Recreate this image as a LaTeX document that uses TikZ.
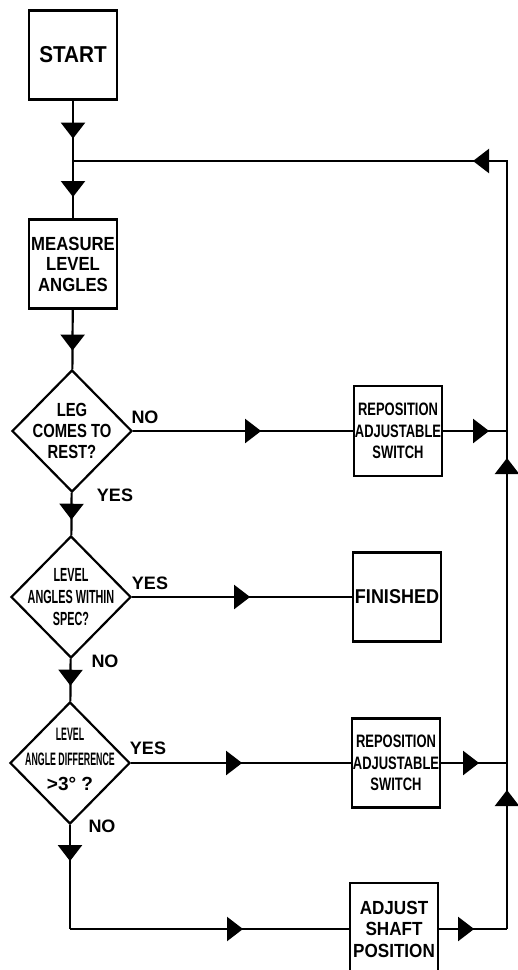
\documentclass[tikz,border=0pt]{standalone}
\usepackage{fontspec}
\setmainfont{Liberation Sans}
\newfontfamily\fStart[FakeStretch=0.9]{Liberation Sans}
\newfontfamily\fMeas[FakeStretch=0.88]{Liberation Sans}
\newfontfamily\fMid[FakeStretch=0.78]{Liberation Sans}
\newfontfamily\fRep[FakeStretch=0.72]{Liberation Sans}
\newfontfamily\fNar[FakeStretch=0.57]{Liberation Sans}
\newfontfamily\fVNar[FakeStretch=0.49]{Liberation Sans}
\usetikzlibrary{shapes.geometric,arrows.meta,decorations.markings}
\tikzset{
  ln/.style={line width=2.2pt, line join=miter},
  box/.style={draw, line width=2.2pt, minimum width=88pt, minimum height=89pt, inner sep=0pt, align=center},
  dia/.style={draw, diamond, line width=2.2pt, minimum width=120pt, minimum height=122pt, inner sep=0pt},
  lbl/.style={inner sep=0pt, align=center},
  yn/.style={inner sep=0pt, font=\bfseries\fontsize{18}{20}\selectfont},
  midarrow/.style={postaction={decorate}, decoration={markings, mark=at position #1 with {\arrow{Triangle[width=24pt,length=16pt]}}}}
}
\begin{document}
\begin{tikzpicture}[x=1pt,y=-1pt]
\useasboundingbox (0,0) rectangle (518,970);
% left column
\node[box, font=\fStart\bfseries\fontsize{23}{25}\selectfont] (start) at (73,55) {START};
\coordinate (j) at (73,161);
\node[box, font=\fMeas\bfseries\fontsize{19}{20.5}\selectfont] (meas) at (73,264) {MEASURE\\LEVEL\\ANGLES};
\node[dia] (d1) at (72,431) {};
\node[lbl, font=\fMid\bfseries\fontsize{19}{21}\selectfont] (d1t) at (d1.center) {LEG\\COMES TO\\REST?};
\node[dia] (d2) at (71,597) {};
\node[lbl, font=\fNar\bfseries\fontsize{19}{22}\selectfont] (d2t) at (d2.center) {LEVEL\\ANGLES WITHIN\\SPEC?};
\node[dia] (d3) at (70,763) {};
\node[lbl, font=\fVNar\bfseries\fontsize{18}{25}\selectfont] (d3t) at (70,759) {LEVEL\\ANGLE DIFFERENCE\\{\rmfamily\bfseries\fontsize{19}{20}\selectfont >3° ?}};
\coordinate (c) at (70,929);
% right column
\node[box, minimum height=90pt, font=\fRep\bfseries\fontsize{18}{21.5}\selectfont] (rep1) at (398,431) {REPOSITION\\ADJUSTABLE\\SWITCH};
\node[box, font=\fStart\bfseries\fontsize{20}{22}\selectfont] (fin) at (397,597) {FINISHED};
\node[box, font=\fRep\bfseries\fontsize{18}{21.5}\selectfont] (rep2) at (396,763) {REPOSITION\\ADJUSTABLE\\SWITCH};
\node[box, minimum height=92pt, font=\fStart\bfseries\fontsize{19}{21.5}\selectfont] (adj) at (394,929) {ADJUST\\SHAFT\\POSITION};
\coordinate (r0) at (507,161);
\coordinate (r1) at (507,431);
\coordinate (r2) at (507,763);
\coordinate (r3) at (507,929);
% labels
\node[yn] (no1) at (145,417) {NO};
\node[yn] (yes1) at (115,495) {YES};
\node[yn] (yes2) at (150,583) {YES};
\node[yn] (no2) at (105,661) {NO};
\node[yn] (yes3) at (148,748) {YES};
\node[yn] (no3) at (102,826) {NO};
% connectors
\draw[ln, midarrow=38pt] (start) -- (j);
\draw[ln, midarrow=36pt] (j) -- (meas);
\draw[ln, midarrow=41pt] (meas) -- (d1);
\draw[ln, midarrow=128pt] (d1) -- (rep1);
\draw[ln, midarrow=46pt] (rep1) -- (r1);
\draw[ln, midarrow=27pt] (d1) -- (d2);
\draw[ln, midarrow=118pt] (d2) -- (fin);
\draw[ln, midarrow=27pt] (d2) -- (d3);
\draw[ln, midarrow=111pt] (d3) -- (rep2);
\draw[ln, midarrow=38pt] (rep2) -- (r2);
\draw[ln, midarrow=36pt] (d3) -- (c);
\draw[ln, midarrow=173pt] (c) -- (adj);
\draw[ln, midarrow=35pt] (adj) -- (r3);
\draw[ln, midarrow=139pt] (r3) -- (r2);
\draw[ln, midarrow=305pt] (r2) -- (r1);
\draw[ln, midarrow=304pt] (r1) -- (r0) -- (j);
\end{tikzpicture}
\end{document}
